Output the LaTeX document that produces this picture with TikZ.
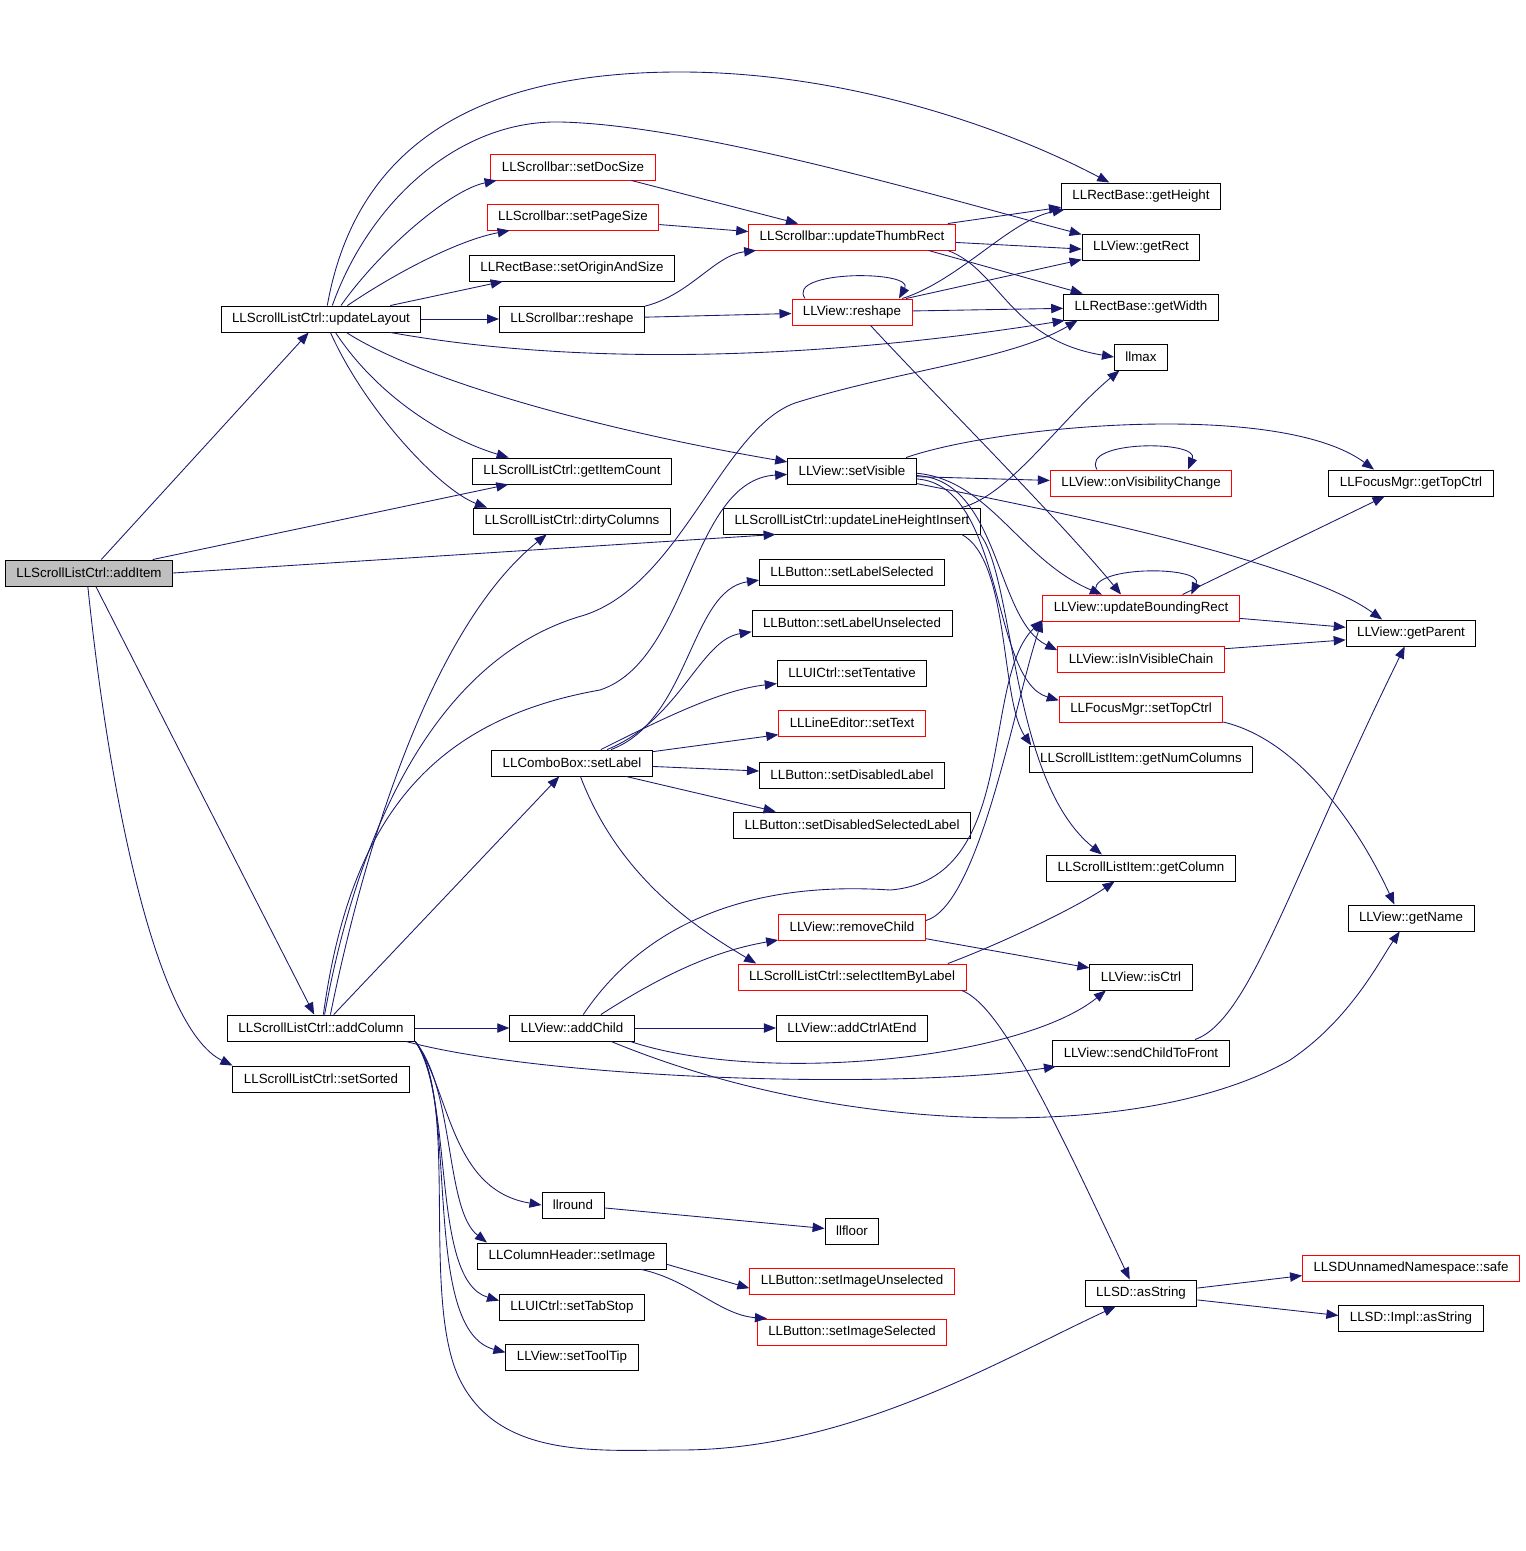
\documentclass[tikz,border=0pt]{standalone}
\usepackage{fontspec}
\setmainfont{Liberation Sans}
\usepackage{tikz}
\usetikzlibrary{arrows.meta}
\definecolor{callblue}{RGB}{25,25,112}
\definecolor{rootgray}{RGB}{191,191,191}

\begin{document}
\begin{tikzpicture}[x=0.75pt, y=-0.75pt,
    fn/.style={draw=black, line width=0.7pt, fill=white, minimum height=19.5pt, inner xsep=8.25pt, inner ysep=0pt, font=\fontsize{10}{12}\selectfont},
    fnred/.style={fn, draw=red},
    fnroot/.style={fn, fill=rootgray},
    callarrow/.style={draw=callblue, line width=0.65pt, -{Triangle[length=9pt, width=7pt]}}]

    \fill [white] (0,0) rectangle (1525,1551);

    % Caller
    \node [fnroot] (addItem) at (89,573) {LLScrollListCtrl::addItem};

    % Column 1
    \node [fn] (updateLayout) at (321,319) {LLScrollListCtrl::updateLayout};
    \node [fn] (addColumn) at (321,1028) {LLScrollListCtrl::addColumn};
    \node [fn] (setSorted) at (321,1079) {LLScrollListCtrl::setSorted};

    % Column 2
    \node [fnred] (setDocSize) at (573,167) {LLScrollbar::setDocSize};
    \node [fnred] (setPageSize) at (573,217) {LLScrollbar::setPageSize};
    \node [fn] (setOriginAndSize) at (572,268) {LLRectBase::setOriginAndSize};
    \node [fn] (sbReshape) at (572,319) {LLScrollbar::reshape};
    \node [fn] (getItemCount) at (572,471) {LLScrollListCtrl::getItemCount};
    \node [fn] (dirtyColumns) at (572,521) {LLScrollListCtrl::dirtyColumns};
    \node [fn] (cbSetLabel) at (572,763) {LLComboBox::setLabel};
    \node [fn] (addChild) at (572,1028) {LLView::addChild};
    \node [fn] (llround) at (573,1205) {llround};
    \node [fn] (chSetImage) at (572,1256) {LLColumnHeader::setImage};
    \node [fn] (setTabStop) at (572,1307) {LLUICtrl::setTabStop};
    \node [fn] (setToolTip) at (572,1357) {LLView::setToolTip};

    % Column 3
    \node [fnred] (thumbRect) at (852,237) {LLScrollbar::updateThumbRect};
    \node [fnred] (viewReshape) at (852,312) {LLView::reshape};
    \node [fn] (setVisible) at (852,471) {LLView::setVisible};
    \node [fn] (lineHeight) at (852,521) {LLScrollListCtrl::updateLineHeightInsert};
    \node [fn] (setLabelSel) at (852,572) {LLButton::setLabelSelected};
    \node [fn] (setLabelUnsel) at (852,623) {LLButton::setLabelUnselected};
    \node [fn] (setTentative) at (852,673) {LLUICtrl::setTentative};
    \node [fnred] (setText) at (852,723) {LLLineEditor::setText};
    \node [fn] (setDisabled) at (852,775) {LLButton::setDisabledLabel};
    \node [fn] (setDisabledSel) at (852,825) {LLButton::setDisabledSelectedLabel};
    \node [fnred] (removeChild) at (852,927) {LLView::removeChild};
    \node [fnred] (selectByLabel) at (852,977) {LLScrollListCtrl::selectItemByLabel};
    \node [fn] (addCtrlAtEnd) at (852,1028) {LLView::addCtrlAtEnd};
    \node [fn] (llfloor) at (852,1231) {llfloor};
    \node [fnred] (setImgUnsel) at (852,1281) {LLButton::setImageUnselected};
    \node [fnred] (setImgSel) at (852,1332) {LLButton::setImageSelected};

    % Column 4
    \node [fn] (getHeight) at (1141,196) {LLRectBase::getHeight};
    \node [fn] (getRect) at (1141,247) {LLView::getRect};
    \node [fn] (getWidth) at (1141,307) {LLRectBase::getWidth};
    \node [fn] (llmax) at (1141,357) {llmax};
    \node [fnred] (onVisChange) at (1141,483) {LLView::onVisibilityChange};
    \node [fnred] (boundRect) at (1141,608) {LLView::updateBoundingRect};
    \node [fnred] (inVisChain) at (1141,659) {LLView::isInVisibleChain};
    \node [fnred] (setTopCtrl) at (1141,709) {LLFocusMgr::setTopCtrl};
    \node [fn] (numColumns) at (1141,759) {LLScrollListItem::getNumColumns};
    \node [fn] (getColumn) at (1141,868) {LLScrollListItem::getColumn};
    \node [fn] (isCtrl) at (1141,977) {LLView::isCtrl};
    \node [fn] (sendToFront) at (1141,1053) {LLView::sendChildToFront};
    \node [fn] (sdAsString) at (1141,1293) {LLSD::asString};

    % Column 5
    \node [fn] (getTopCtrl) at (1411,483) {LLFocusMgr::getTopCtrl};
    \node [fn] (getParent) at (1411,633) {LLView::getParent};
    \node [fn] (getName) at (1411,918) {LLView::getName};
    \node [fnred] (sdSafe) at (1411,1268) {LLSDUnnamedNamespace::safe};
    \node [fn] (implAsString) at (1411,1318) {LLSD::Impl::asString};

    % addItem
    \draw [callarrow] (addItem) -- (updateLayout);
    \draw [callarrow] (addItem) -- (getItemCount);
    \draw [callarrow] (addItem.east) -- (lineHeight.190);
    \draw [callarrow] (addItem) -- (addColumn);
    \draw [callarrow] (addItem.265) .. controls (112,820) and (160,1030) .. (setSorted.north west);

    % updateLayout
    \draw [callarrow] (updateLayout.34) .. controls (380,250) and (450,190) .. (setDocSize.190);
    \draw [callarrow] (updateLayout.27) .. controls (400,270) and (460,240) .. (setPageSize.192);
    \draw [callarrow] (updateLayout.11) -- (setOriginAndSize.191);
    \draw [callarrow] (updateLayout) -- (sbReshape);
    \draw [callarrow] (updateLayout.65) .. controls (355,150) and (470,72) .. (680,72) .. controls (850,72) and (1010,130) .. (getHeight.157);
    \draw [callarrow] (updateLayout.50) .. controls (370,200) and (460,120) .. (560,122) .. controls (700,125) and (950,200) .. (getRect.168);
    \draw [callarrow] (updateLayout.-11) .. controls (600,370) and (850,355) .. (getWidth.190);
    \draw [callarrow] (updateLayout.-43) .. controls (380,400) and (450,440) .. (getItemCount.168);
    \draw [callarrow] (updateLayout.-55) .. controls (365,410) and (440,490) .. (dirtyColumns.171);
    \draw [callarrow] (updateLayout.-28) .. controls (420,380) and (600,430) .. (setVisible.172);

    % scrollbar
    \draw [callarrow] (sbReshape.10) .. controls (690,295) and (715,255) .. (thumbRect.188);
    \draw [callarrow] (sbReshape) -- (viewReshape);
    \draw [callarrow] (setDocSize.-13) -- (thumbRect.166);
    \draw [callarrow] (setPageSize.-5) -- (thumbRect.177);
    \draw [callarrow] (thumbRect.8) -- (getHeight.188);
    \draw [callarrow] (thumbRect.-3) -- (getRect.182);
    \draw [callarrow] (thumbRect.-10) -- (getWidth.167);
    \draw [callarrow] (thumbRect.-8) .. controls (1000,270) and (1010,340) .. (llmax.west);

    % LLView::reshape
    \draw [callarrow] (viewReshape.164) .. controls (785,270) and (915,270) .. (viewReshape.16);
    \draw [callarrow] (viewReshape.15) .. controls (960,280) and (1010,220) .. (getHeight.190);
    \draw [callarrow] (viewReshape.14) -- (getRect.192);
    \draw [callarrow] (viewReshape) -- (getWidth);
    \draw [callarrow] (viewReshape.-36) .. controls (930,390) and (1060,520) .. (boundRect.146);

    % LLView::setVisible
    \draw [callarrow] (setVisible.-5) -- (onVisChange);
    \draw [callarrow] (onVisChange.163) .. controls (1080,440) and (1200,440) .. (onVisChange.16);
    \draw [callarrow] (setVisible.14) .. controls (1000,425) and (1280,400) .. (getTopCtrl.160);
    \draw [callarrow] (setVisible.-11) .. controls (1050,510) and (1300,560) .. (getParent.155);
    \draw [callarrow] (setVisible.-2) .. controls (990,480) and (1020,560) .. (boundRect.161);
    \draw [callarrow] (setVisible.-4) .. controls (1000,480) and (995,620) .. (inVisChain.174);
    \draw [callarrow] (setVisible.-7) .. controls (1005,485) and (990,680) .. (setTopCtrl.174);

    % updateLineHeightInsert
    \draw [callarrow] (lineHeight.7) .. controls (1010,495) and (1060,420) .. (llmax.212);
    \draw [callarrow] (lineHeight.-7) .. controls (1010,560) and (1000,700) .. (numColumns.173);
    \draw [callarrow] (lineHeight.-6) .. controls (1015,580) and (1010,780) .. (getColumn.161);

    % updateBoundingRect and friends
    \draw [callarrow] (boundRect.163) .. controls (1080,565) and (1205,565) .. (boundRect.15);
    \draw [callarrow] (boundRect.18) -- (getTopCtrl.207);
    \draw [callarrow] (boundRect.-6) -- (getParent.175);
    \draw [callarrow] (inVisChain.7) -- (getParent.186);
    \draw [callarrow] (setTopCtrl.-9) .. controls (1300,740) and (1360,830) .. (getName.141);
    \draw [callarrow] (sendToFront.14) .. controls (1250,1020) and (1290,880) .. (getParent.245);

    % LLComboBox::setLabel
    \draw [callarrow] (cbSetLabel.19) .. controls (690,720) and (690,590) .. (setLabelSel.185);
    \draw [callarrow] (cbSetLabel.21) .. controls (680,720) and (700,640) .. (setLabelUnsel.185);
    \draw [callarrow] (cbSetLabel.25) .. controls (660,720) and (720,690) .. (setTentative.188);
    \draw [callarrow] (cbSetLabel.8) -- (setText.189);
    \draw [callarrow] (cbSetLabel) -- (setDisabled);
    \draw [callarrow] (cbSetLabel.-14) -- (setDisabledSel.170);
    \draw [callarrow] (cbSetLabel.-58) .. controls (620,880) and (700,930) .. (selectByLabel.172);

    % addColumn
    \draw [callarrow] (addColumn) -- (cbSetLabel);
    \draw [callarrow] (addColumn.55) .. controls (370,820) and (440,620) .. (dirtyColumns.208);
    \draw [callarrow] (addColumn.80) .. controls (350,820) and (430,720) .. (600,690) .. controls (690,660) and (690,480) .. (setVisible.183);
    \draw [callarrow] (addColumn.75) .. controls (360,820) and (440,660) .. (578,617) .. controls (680,590) and (720,430) .. (795,403) .. controls (900,370) and (1010,360) .. (getWidth.192);
    \draw [callarrow] (addColumn) -- (addChild);
    \draw [callarrow] (addColumn.-9) .. controls (550,1080) and (900,1090) .. (sendToFront.189);
    \draw [callarrow] (addColumn.-8) .. controls (450,1090) and (450,1190) .. (llround.west);
    \draw [callarrow] (addColumn.-8) .. controls (455,1090) and (445,1210) .. (chSetImage.171);
    \draw [callarrow] (addColumn.-8) .. controls (455,1100) and (430,1280) .. (setTabStop.175);
    \draw [callarrow] (addColumn.-8) .. controls (460,1100) and (420,1330) .. (setToolTip.176);
    \draw [callarrow] (addColumn.-8) .. controls (460,1100) and (420,1300) .. (460,1380) .. controls (500,1460) and (600,1450) .. (680,1450) .. controls (850,1450) and (1000,1360) .. (sdAsString.208);

    % LLView::addChild
    \draw [callarrow] (addChild.25) .. controls (670,970) and (720,950) .. (removeChild.190);
    \draw [callarrow] (addChild) -- (addCtrlAtEnd);
    \draw [callarrow] (addChild.50) .. controls (640,930) and (740,880) .. (890,890) .. controls (1020,880) and (980,680) .. (boundRect.187);
    \draw [callarrow] (addChild.-13) .. controls (760,1085) and (1020,1060) .. (isCtrl.201);
    \draw [callarrow] (addChild.-19) .. controls (850,1140) and (1150,1140) .. (1290,1060) .. controls (1350,1020) and (1380,960) .. (getName.230);

    % removeChild, selectItemByLabel
    \draw [callarrow] (removeChild.5) .. controls (980,905) and (1015,700) .. (boundRect.187);
    \draw [callarrow] (removeChild.-9) -- (isCtrl.170);
    \draw [callarrow] (selectByLabel.8) .. controls (1010,940) and (1080,905) .. (getColumn.207);
    \draw [callarrow] (selectByLabel.-7) .. controls (1000,1005) and (1050,1110) .. (sdAsString.130);

    % lower part
    \draw [callarrow] (llround) -- (llfloor);
    \draw [callarrow] (chSetImage.-5) -- (setImgUnsel.184);
    \draw [callarrow] (chSetImage.-11) .. controls (690,1280) and (720,1315) .. (setImgSel.171);
    \draw [callarrow] (sdAsString.5) -- (sdSafe.184);
    \draw [callarrow] (sdAsString.-7) -- (implAsString.178);
\end{tikzpicture}
\end{document}
